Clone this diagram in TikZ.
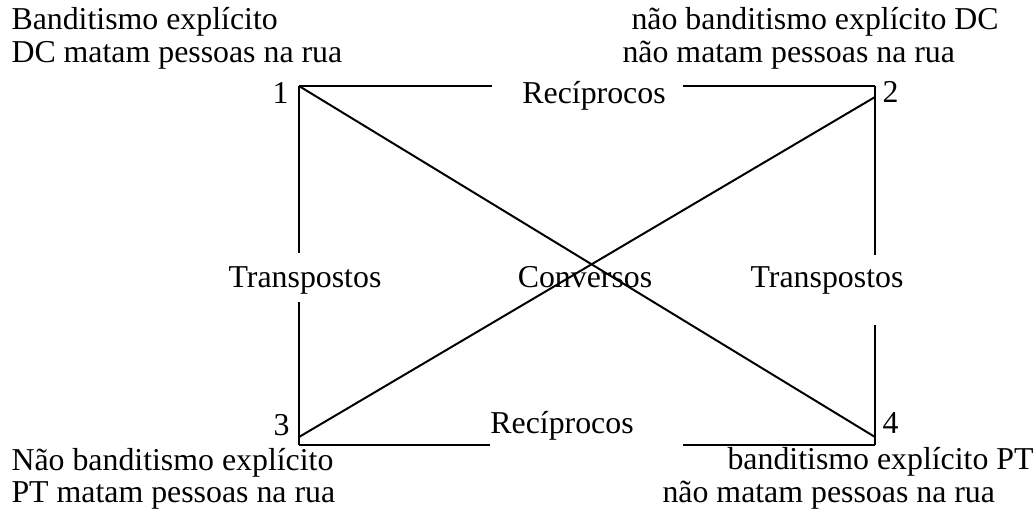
\documentclass[tikz,border=0pt]{standalone}
\usepackage{fontspec}
\setmainfont{Liberation Serif}
\usepackage{tikz}
\usetikzlibrary{positioning}

\begin{document}
\begin{tikzpicture}[
    x=0.38pt, y=-0.38pt,
    every node/.style={font=\fontsize{12.1}{14}\selectfont, inner sep=0pt},
    caption/.style={anchor=base west},
    relation/.style={anchor=base},
    side/.style={line width=0.75pt},
    diag/.style={line width=0.75pt}
]
    \useasboundingbox (0,0) rectangle (1036,516);

    % Corners
    \coordinate (c1) at (299,86);
    \coordinate (c2) at (875,86);
    \coordinate (c3) at (299,445);
    \coordinate (c4) at (875,445);
    \coordinate (d2) at (875,97);
    \coordinate (d3) at (299,437);
    \coordinate (d4) at (875,437);

    % Gap ends
    \coordinate (topL) at (492,86);
    \coordinate (topR) at (683,86);
    \coordinate (botL) at (490,445);
    \coordinate (botR) at (683,445);
    \coordinate (leftT) at (299,253);
    \coordinate (leftB) at (299,302);
    \coordinate (rightT) at (875,255);
    \coordinate (rightB) at (875,325);

    % Corner numbers
    \node[anchor=base east] (n1) at (289,103) {1};
    \node[anchor=base west] (n2) at (882,102) {2};
    \node[anchor=base east] (n3) at (290,435) {3};
    \node[anchor=base west] (n4) at (882,433) {4};

    % Propositions
    \node[caption] (p1a) at (11,29) {Banditismo explícito};
    \node[caption] (p1b) at (11,62) {DC matam pessoas na rua};
    \node[caption] (p2a) at (631,29) {não banditismo explícito DC};
    \node[caption] (p2b) at (622,62) {não matam pessoas na rua};
    \node[caption] (p3a) at (11,470) {Não banditismo explícito};
    \node[caption] (p3b) at (11,502) {PT matam pessoas na rua};
    \node[caption] (p4a) at (727,469) {banditismo explícito PT};
    \node[caption] (p4b) at (662,502) {não matam pessoas na rua};

    % Relations
    \node[relation] (rtop) at (594,103) {Recíprocos};
    \node[relation] (rbot) at (562,433) {Recíprocos};
    \node[relation] (tleft) at (305,287) {Transpostos};
    \node[relation] (tright) at (827,287) {Transpostos};
    \node[relation] (conv) at (585,287) {Conversos};

    % Sides
    \draw[side] (c1) -- (topL);
    \draw[side] (topR) -- (c2);
    \draw[side] (c3) -- (botL);
    \draw[side] (botR) -- (c4);
    \draw[side] (c1) -- (leftT);
    \draw[side] (leftB) -- (c3);
    \draw[side] (c2) -- (rightT);
    \draw[side] (rightB) -- (c4);

    % Diagonals
    \draw[diag] (c1) -- (d4);
    \draw[diag] (d2) -- (d3);
\end{tikzpicture}
\end{document}
